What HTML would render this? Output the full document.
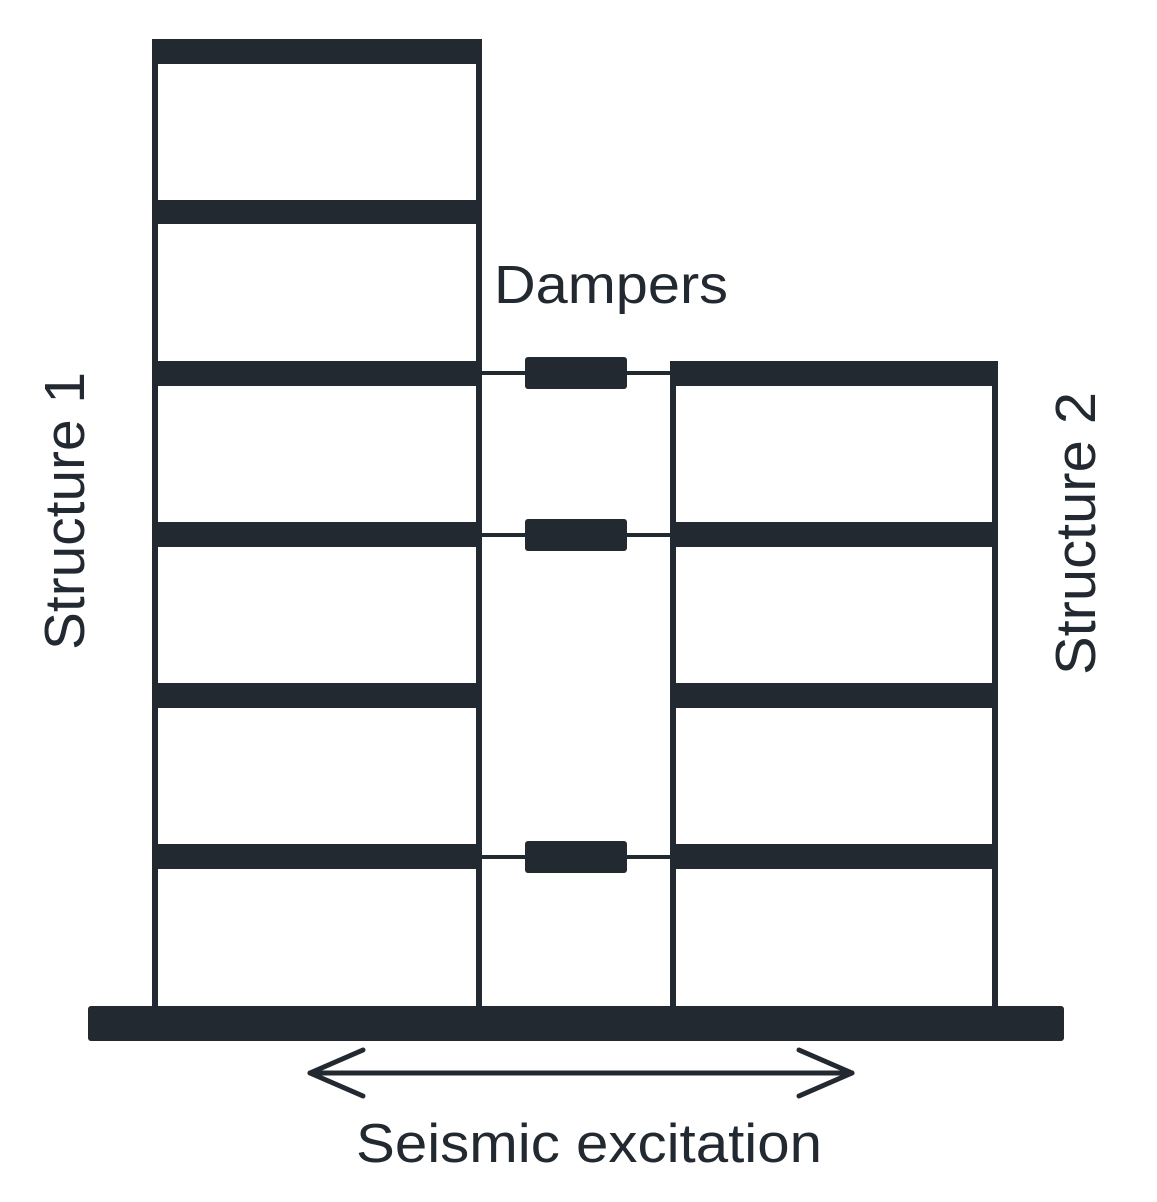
<!DOCTYPE html>
<html><head><style>
html,body{margin:0;padding:0;background:#fff;}
</style></head><body>
<svg width="1157" height="1197" viewBox="0 0 1157 1197" xmlns="http://www.w3.org/2000/svg">
<g fill="#232930">
<rect x="152" y="39" width="6" height="970"/>
<rect x="476" y="39" width="6" height="970"/>
<rect x="152" y="39" width="330" height="25" rx="2"/>
<rect x="152" y="200" width="330" height="24"/>
<rect x="152" y="361" width="330" height="25"/>
<rect x="152" y="522" width="330" height="25"/>
<rect x="152" y="683" width="330" height="25"/>
<rect x="152" y="844" width="330" height="25"/>
<rect x="670" y="361" width="6" height="648"/>
<rect x="992" y="361" width="6" height="648"/>
<rect x="670" y="361" width="328" height="25" rx="2"/>
<rect x="670" y="522" width="328" height="25"/>
<rect x="670" y="683" width="328" height="25"/>
<rect x="670" y="844" width="328" height="25"/>
<rect x="480" y="371" width="192" height="4"/>
<rect x="525" y="357" width="102" height="32" rx="3"/>
<rect x="480" y="533" width="192" height="4"/>
<rect x="525" y="519" width="102" height="32" rx="3"/>
<rect x="480" y="855" width="192" height="4"/>
<rect x="525" y="841" width="102" height="32" rx="3"/>
<rect x="88" y="1006" width="976" height="35" rx="3"/>
</g>
<g stroke="#232930" stroke-width="5" fill="none" stroke-linecap="round" stroke-linejoin="round">
<line x1="310" y1="1073" x2="852" y2="1073"/>
<polyline points="363,1050 310,1073 363,1096"/>
<polyline points="799,1050 852,1073 799,1096"/>
</g>
<g font-family="Liberation Sans, sans-serif" fill="#232930">
<text x="494" y="303" font-size="54" textLength="234" lengthAdjust="spacingAndGlyphs">Dampers</text>
<text x="356" y="1162" font-size="55" textLength="466" lengthAdjust="spacingAndGlyphs">Seismic excitation</text>
<text transform="translate(84,650) rotate(-90)" font-size="57" textLength="278" lengthAdjust="spacingAndGlyphs">Structure 1</text>
<text transform="translate(1095,675) rotate(-90)" font-size="57" textLength="283" lengthAdjust="spacingAndGlyphs">Structure 2</text>
</g>
</svg>
</body></html>
